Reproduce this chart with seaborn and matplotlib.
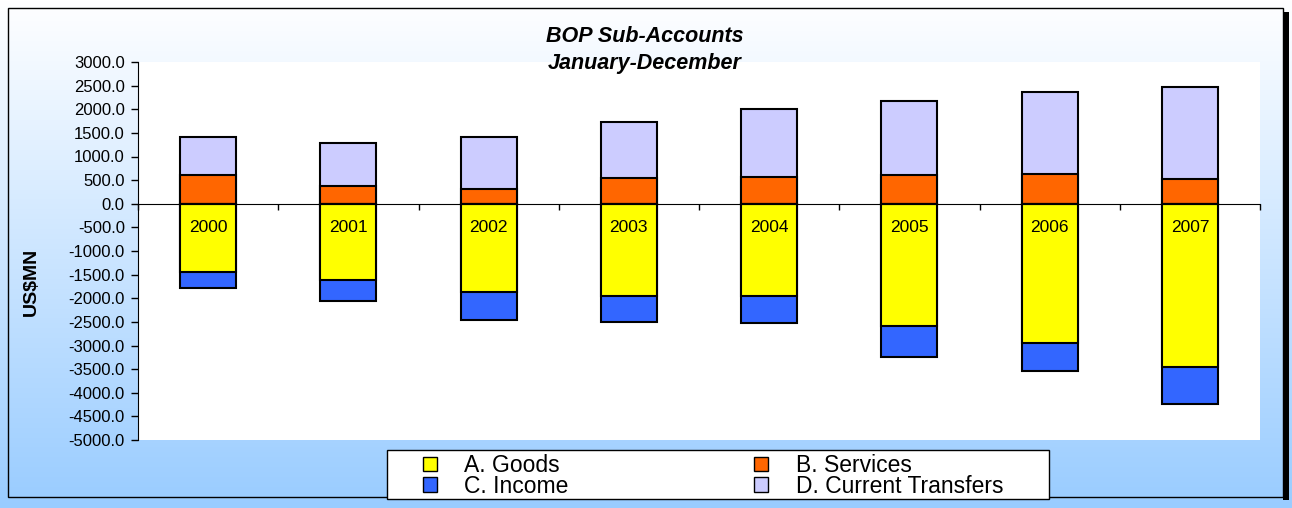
import numpy as np
import pandas as pd
import seaborn as sns
from matplotlib import pyplot as plt
from matplotlib.patches import Rectangle, Patch

# BOP sub-accounts, US$MN
years = ['2000', '2001', '2002', '2003', '2004', '2005', '2006', '2007']
goods = [-1443, -1619, -1866, -1944, -1944, -2578, -2937, -3450]
services = [606, 380, 311, 549, 570, 613, 634, 522]
income = [-345, -430, -598, -562, -570, -668, -613, -797]
transfers = [810, 909, 1092, 1177, 1445, 1572, 1741, 1950]

df = pd.DataFrame({'year': years, 'goods': goods, 'services': services,
                   'income': income, 'transfers': transfers})
# cumulative heights so layers can be drawn back to front
df['pos_total'] = df['services'] + df['transfers']
df['neg_total'] = df['goods'] + df['income']

c_goods = '#FFFF00'
c_serv = '#FF6600'
c_inc = '#3366FF'
c_trans = '#CCCCFF'

sns.set_style('white')
plt.rcParams['font.family'] = ['Liberation Sans', 'DejaVu Sans']
for k in ['text.color', 'axes.labelcolor', 'xtick.color', 'ytick.color']:
    plt.rcParams[k] = 'black'

fig = plt.figure(figsize=(12.92, 5.08), dpi=100)
W, H = 1292, 508

# gradient background
bg = fig.add_axes([0, 0, 1, 1], zorder=-10)
grad = np.linspace(0, 1, 256).reshape(-1, 1)
top = np.array([1.0, 1.0, 1.0])
bot = np.array([0x99, 0xCC, 0xFF]) / 255
img = top + (bot - top) * grad[:, :, None]
bg.imshow(img, aspect='auto', extent=[0, 1, 0, 1], origin='upper')
bg.set_xlim(0, 1)
bg.set_ylim(0, 1)
bg.axis('off')
bg.add_patch(Rectangle((8 / W, 1 - 497 / H), (1283 - 8) / W, (497 - 8) / H,
                       fill=False, edgecolor='black', linewidth=1))
bg.add_patch(Rectangle((1283 / W, 1 - 500 / H), 6 / W, (500 - 12) / H,
                       facecolor='black', edgecolor='none'))
# legend box
bg.add_patch(Rectangle((387 / W, 1 - 499 / H), (1049 - 387) / W, (499 - 450) / H,
                       facecolor='white', edgecolor='black', linewidth=1))

ax = fig.add_axes([138 / W, 1 - 440 / H, (1260 - 138) / W, (440 - 62) / H])
ax.set_facecolor('white')

kw = dict(order=years, width=0.4, edgecolor='black', linewidth=1.5,
          saturation=1, ax=ax)
sns.barplot(data=df, x='year', y='pos_total', color=c_trans, **kw)
sns.barplot(data=df, x='year', y='services', color=c_serv, **kw)
sns.barplot(data=df, x='year', y='neg_total', color=c_inc, **kw)
sns.barplot(data=df, x='year', y='goods', color=c_goods, **kw)

yt = np.arange(-5000, 3001, 500)
ax.set_ylim(-5000, 3000)
ax.set_xlim(-0.5, len(years) - 0.5)
ax.set_yticks(yt)
ax.set_yticklabels([f'{v:.1f}' for v in yt], fontsize=12)
ax.set_xticks(np.arange(len(years) + 1) - 0.5)
ax.set_xticklabels([])
ax.tick_params(axis='x', direction='out', length=4, width=1, color='black', bottom=True)
ax.tick_params(axis='y', direction='out', length=5, width=1, color='black', left=True, pad=4.5)
ax.spines['top'].set_visible(False)
ax.spines['right'].set_visible(False)
ax.spines['bottom'].set_position(('data', 0))
ax.spines['bottom'].set_color('black')
ax.spines['left'].set_color('black')
ax.spines['bottom'].set_zorder(5)
ax.set_xlabel('')
ax.set_ylabel('US$MN', fontsize=14, fontweight='bold')
ax.yaxis.set_label_coords((40 - 138) / (1260 - 138), (440 - 282) / (440 - 62))

for i, y in enumerate(years):
    ax.text(i, -500, y, ha='center', va='center', fontsize=12.5)

fig.text(645 / W, 1 - 37 / H, 'BOP Sub-Accounts', ha='center', va='center',
         fontsize=15.5, fontweight='bold', fontstyle='italic')
fig.text(645 / W, 1 - 64 / H, 'January-December', ha='center', va='center',
         fontsize=15.5, fontweight='bold', fontstyle='italic')

handles = [Patch(facecolor=c_goods, edgecolor='black', label='A. Goods'),
           Patch(facecolor=c_inc, edgecolor='black', label='C. Income'),
           Patch(facecolor=c_serv, edgecolor='black', label='B. Services'),
           Patch(facecolor=c_trans, edgecolor='black', label='D. Current Transfers')]
leg = fig.legend(handles=handles, ncol=2, loc='upper left',
                 bbox_to_anchor=(423 / W, 1 - 454 / H), fontsize=16.5,
                 frameon=False, handlelength=0.6, handleheight=0.6,
                 handletextpad=1.2, columnspacing=8.1, labelspacing=-0.1,
                 borderpad=0, borderaxespad=0)

fig.savefig('out.png', dpi=100)
